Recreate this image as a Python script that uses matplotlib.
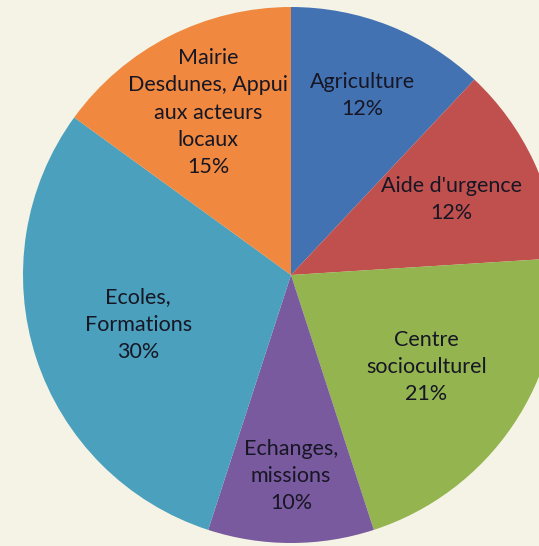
import numpy as np
import matplotlib
matplotlib.use("Agg")
import matplotlib.pyplot as plt

# data
categories = ["Agriculture", "Aide d'urgence", "Centre\nsocioculturel",
              "Echanges,\nmissions", "Ecoles,\nFormations",
              "Mairie\nDesdunes, Appui\naux acteurs\nlocaux"]
shares = [12, 12, 21, 10, 30, 15]

colors = ["#4372b3", "#c0504d", "#93b44f", "#7a5a9e", "#4aa0bd", "#f0893f"]
label_dist = [0.72, 0.66, 0.61, 0.75, 0.60, 0.68]

bg = "#f4f3e5"
W, H = 539, 546

fig = plt.figure(figsize=(W / 100, H / 100), dpi=100, facecolor=bg)
ax = fig.add_axes([0, 0, 1, 1])
ax.set_facecolor(bg)

cx, cy, R = 291, 271, 268

wedges, _ = ax.pie(shares, colors=colors, startangle=90, counterclock=False,
                   center=(cx, cy), radius=R,
                   wedgeprops=dict(linewidth=0))

for w, name, v, d in zip(wedges, categories, shares, label_dist):
    mid = np.deg2rad((w.theta1 + w.theta2) / 2)
    x = cx + d * R * np.cos(mid)
    y = cy + d * R * np.sin(mid)
    ax.text(x, y, f"{name}\n{v}%", ha="center", va="center",
            fontsize=15.5, family="Lato", color="#161624", linespacing=1.45)

ax.set_xlim(0, W)
ax.set_ylim(0, H)
ax.set_aspect("equal", adjustable="datalim")
ax.axis("off")

fig.savefig("out.png", dpi=100, facecolor=bg)
